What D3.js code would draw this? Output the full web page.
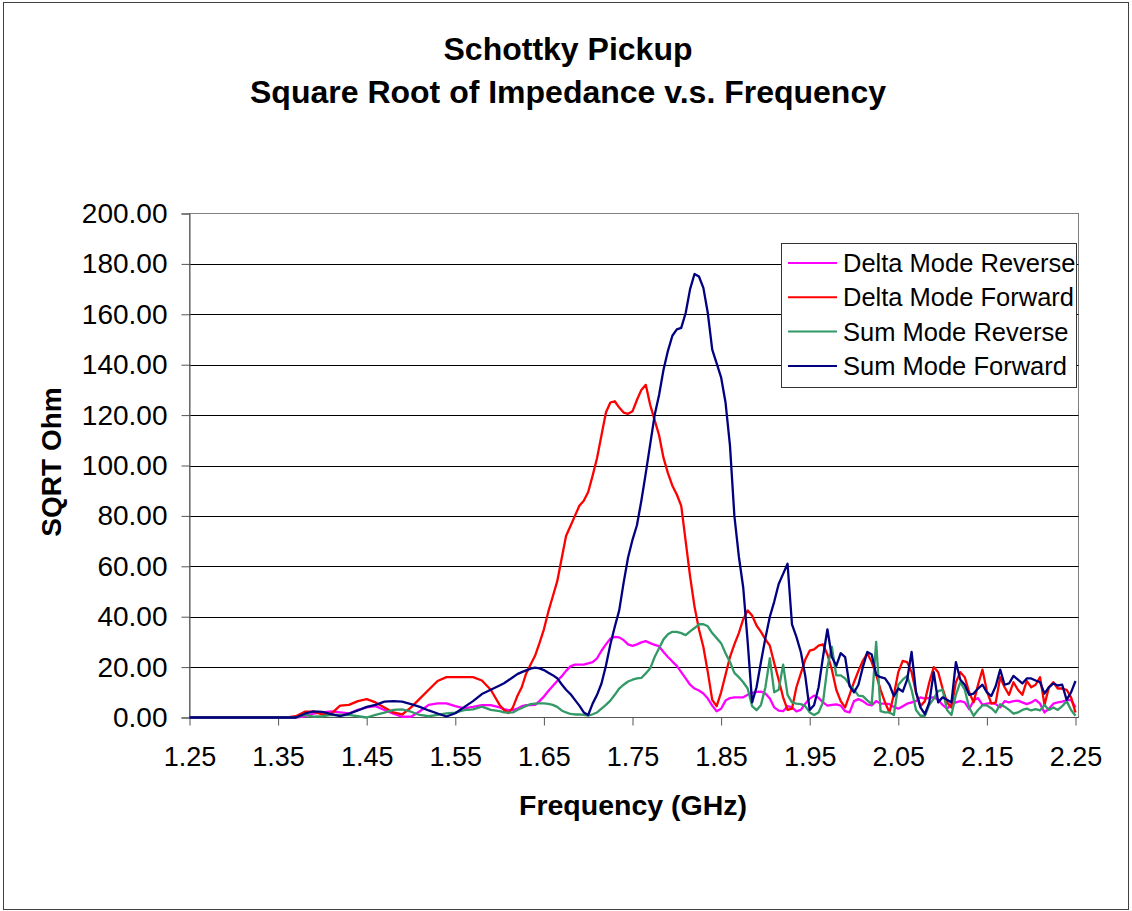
<!DOCTYPE html>
<html>
<head>
<meta charset="utf-8">
<script src="https://cdn.jsdelivr.net/npm/d3@7"></script>
<style>
  body { margin: 0; background: #fff; }
  svg { display: block; }
  text { font-family: "Liberation Sans", Arial, Helvetica, sans-serif; fill: #000; }
</style>
</head>
<body>
<div id="chart"></div>
<script>
// frequency points (GHz)
const freq = [1.25, 1.36, 1.37, 1.38, 1.39, 1.40, 1.41, 1.42, 1.43, 1.44, 1.45, 1.46, 1.47, 1.48, 1.49, 1.50, 1.51, 1.52, 1.53, 1.54, 1.55, 1.56, 1.57, 1.58, 1.59,
  1.600, 1.605, 1.610, 1.615, 1.620, 1.625, 1.630, 1.635, 1.640, 1.645, 1.650, 1.655, 1.660, 1.665, 1.670, 1.675, 1.680, 1.685, 1.690, 1.695,
  1.700, 1.705, 1.710, 1.715, 1.720, 1.725, 1.730, 1.735, 1.740, 1.745, 1.750, 1.755, 1.760, 1.765, 1.770, 1.775, 1.780, 1.785, 1.790, 1.795,
  1.800, 1.805, 1.810, 1.815, 1.820, 1.825, 1.830, 1.835, 1.840, 1.845, 1.850, 1.855, 1.860, 1.865, 1.870, 1.875, 1.880, 1.885, 1.890, 1.895,
  1.900, 1.905, 1.910, 1.915, 1.920, 1.925, 1.930, 1.935, 1.940, 1.945, 1.950, 1.955, 1.960, 1.965, 1.970, 1.975, 1.980, 1.985, 1.990, 1.995,
  2.000, 2.005, 2.010, 2.015, 2.020, 2.025, 2.030, 2.035, 2.040, 2.045, 2.050, 2.055, 2.060, 2.065, 2.070, 2.075, 2.080, 2.085, 2.090, 2.095,
  2.100, 2.105, 2.110, 2.115, 2.120, 2.125, 2.130, 2.135, 2.140, 2.145, 2.150, 2.155, 2.160, 2.165, 2.170, 2.175, 2.180, 2.185, 2.190, 2.195,
  2.200, 2.205, 2.210, 2.215, 2.220, 2.225, 2.230, 2.235, 2.240, 2.245, 2.250];

const deltaReverse = [0, 0, 0, 0.5, 1.5, 2, 2.4, 2, 1.6, 3, 4, 4.5, 3, 1.5, 0.3, 0.3, 2.5, 5, 5.6, 5.6, 4.5, 3.6, 4.2, 4.9, 4.9,
  4, 3.3, 2.9, 2.9, 3.5, 4.5, 4.9, 4.9, 5, 6.5, 8.3, 10.5, 12.5, 14.5, 16.3, 18.5, 20.3, 21, 21, 21,
  21.5, 22, 23.5, 26.5, 29, 31.3, 32, 31.8, 30.7, 29, 28.4, 29, 29.8, 30.3, 29.5, 28.8, 28.3, 26, 24, 22.2,
  20.5, 18, 15.5, 13, 11.5, 10.7, 9.5, 7.5, 4.7, 2.5, 3.5, 6.7, 7.7, 8, 8, 8, 9, 9.8, 10.2, 10.3,
  9.5, 7.5, 4, 2.7, 2.5, 4.5, 4, 2.4, 3, 5.5, 7.5, 8.7, 7.8, 6, 4.7, 5, 5.2, 4.7, 2.5, 2,
  6.5, 7.3, 6.5, 5.2, 4.8, 6.5, 5.5, 5.5, 5.3, 4.2, 3.5, 4.5, 5.5, 6, 6.5, 8, 7.5, 7.8, 8, 7,
  5, 3.5, 5.3, 6, 6.5, 6, 3.3, 6.7, 7.7, 5, 5.5, 5.8, 5.3, 4, 6.5, 6, 6.5, 6.7, 6, 5.3,
  6, 7, 5.5, 2, 3.5, 5.5, 6, 6.3, 6.8, 7, 4];

const deltaForward = [0, 0, 0.5, 2.3, 2.3, 1.2, 1.5, 4.7, 5, 6.5, 7.3, 6, 4, 2, 1.2, 4, 7.5, 11, 14.5, 16, 16, 16, 16, 14.7, 11,
  5, 3, 1.8, 4, 8.5, 12, 17.5, 21, 24.5, 29.5, 35, 42, 48, 54, 63, 72, 76, 80, 84, 86,
  89.5, 96, 103, 112, 121, 125, 125.5, 123, 121, 120.5, 121.5, 126, 130, 132, 124, 118, 112, 103, 97, 92,
  88.5, 84, 70, 56, 44, 35, 28, 18, 7, 4.5, 10, 17, 24, 29, 33.5, 39, 42.5, 40.5, 36.5, 34,
  31, 28.5, 21.5, 15, 8, 3, 3.5, 12, 17.5, 23, 26.5, 27, 28.5, 29, 25, 19, 11, 6.5, 4, 9,
  14, 18.5, 22.5, 25.5, 22, 17, 11, 6, 2, 9, 18, 22.5, 22, 18, 10, 4.5, 6.5, 14, 20, 18,
  11.5, 6, 4, 14, 18, 16, 10, 6, 13, 19, 10.5, 5.5, 6, 16, 12, 9, 14, 11, 9, 14.5,
  12, 13, 16, 5, 12, 14, 11.5, 11.5, 11, 8, 2];

const sumReverse = [0, 0, 0, 1, 0.3, 0.5, 1, 1, 1, 0.5, 0, 1, 1.9, 3, 3.2, 2.3, 1, 0.5, 1, 1.6, 1.9, 2.9, 3.2, 4.3, 3,
  2.5, 2, 1.9, 2, 3, 3.8, 4.6, 5.3, 5.5, 5.6, 5.6, 5.4, 5, 4.2, 2.8, 2, 1.4, 1.2, 1.2, 1,
  0.7, 1.3, 2, 3.5, 5, 6.7, 9, 11.5, 13, 14.3, 15, 15.5, 15.7, 17.5, 19.5, 24, 27.5, 31, 33, 34,
  34, 33.5, 32.7, 34.2, 35.5, 37, 37, 36.2, 33.5, 31.5, 29.5, 25.5, 22, 17.7, 16, 14, 11.5, 4.5, 2.9, 5,
  12, 23.5, 10, 11, 21, 9, 6, 5.5, 5.3, 4.5, 2, 1, 2, 6, 20, 28, 16.7, 16.7, 15.5, 13,
  11, 8.7, 8.5, 6.8, 5.3, 30, 2.5, 2, 2, 1, 13, 15, 16.5, 11, 3, 0.7, 0.7, 5, 7.5, 10.5,
  11, 3, 1, 9, 14, 11, 4, 0.7, 3, 4.8, 4.8, 3.7, 2, 5.3, 4.3, 3, 1.5, 2, 3, 3.5,
  2.8, 3.3, 2.8, 5, 3, 4, 3, 4.5, 6.5, 3, 0.7];

const sumForward = [0, 0, 0, 1.5, 2.4, 2.2, 1.3, 0.5, 1.5, 2.8, 4.2, 5, 6.3, 6.5, 6.3, 5.3, 4.2, 2.8, 1.6, 0.4, 1.7, 4.1, 6.5, 9.3, 11,
  12.7, 13.6, 14.8, 16, 17.2, 18, 18.7, 19.4, 19.8, 19.5, 18.8, 17.8, 16.8, 15.6, 13.2, 11, 9.3, 7, 4.7, 2,
  1, 5.5, 9, 13.5, 20.5, 29, 36, 42.5, 53.5, 63.5, 70.5, 76.3, 86, 97, 108.5, 120, 128, 138, 145.5, 151.5,
  154, 154.6, 160.5, 170, 176, 175, 170.5, 160.5, 146, 140.5, 135, 125, 108, 80, 64, 51.5, 30, 6, 12, 22,
  31.5, 40, 46, 53, 57, 61, 37, 32, 26, 16.5, 3, 5, 12, 24, 35, 24, 20.5, 25.5, 24, 12.5,
  10, 13, 20, 26, 25, 17, 16, 15.5, 13, 8.5, 11.5, 10.3, 15, 26, 10, 4, 1.3, 6, 18, 6,
  8, 7, 6, 22, 15, 13, 9, 9.5, 11.5, 13, 10, 8.5, 12.5, 19, 13, 13.5, 16.5, 15, 13.5, 15.5,
  15.5, 14.7, 14, 9.5, 12, 13.5, 12.7, 13, 7, 10, 14.5];

const seriesNames = ["Delta Mode Reverse", "Delta Mode Forward", "Sum Mode Reverse", "Sum Mode Forward"];
const seriesColors = ["#ff00ff", "#ff0000", "#339966", "#000080"];
const seriesValues = [deltaReverse, deltaForward, sumReverse, sumForward];

const xTicks = [1.25, 1.35, 1.45, 1.55, 1.65, 1.75, 1.85, 1.95, 2.05, 2.15, 2.25];
const yTicks = [0, 20, 40, 60, 80, 100, 120, 140, 160, 180, 200];

const width = 1132, height = 911;
const plot = {left: 189.5, right: 1078.5, top: 213.5, bottom: 717.5};

const svg = d3.select("#chart")
  .append("svg")
  .attr("width", width)
  .attr("height", height);

// outer chart border
svg.append("rect")
  .attr("x", 3.5).attr("y", 2.5)
  .attr("width", 1125).attr("height", 907)
  .attr("fill", "#fff")
  .attr("stroke", "#404040")
  .attr("stroke-width", 1);

const x = d3.scaleLinear().domain([1.25, 2.25]).range([plot.left, 1075.5]);
const y = d3.scaleLinear().domain([0, 200]).range([plot.bottom, plot.top]);

// plot area frame
svg.append("rect")
  .attr("x", plot.left).attr("y", plot.top)
  .attr("width", plot.right - plot.left).attr("height", plot.bottom - plot.top)
  .attr("fill", "#fff")
  .attr("stroke", "#808080")
  .attr("stroke-width", 1);

// horizontal gridlines
svg.append("g")
  .selectAll("line")
  .data(yTicks.filter(d => d > 0 && d < 200))
  .join("line")
    .attr("x1", plot.left).attr("x2", plot.right)
    .attr("y1", d => Math.round(y(d)) + 0.5).attr("y2", d => Math.round(y(d)) + 0.5)
    .attr("stroke", "#000")
    .attr("stroke-width", 1);

// y axis
const yAxis = svg.append("g")
  .attr("transform", `translate(${plot.left},0)`)
  .call(d3.axisLeft(y).tickValues(yTicks).tickSize(8).tickPadding(14).tickFormat(d3.format(".2f")));
yAxis.select(".domain").attr("stroke", "#555");
yAxis.selectAll(".tick line").attr("stroke", "#555");
yAxis.selectAll("text").style("font-size", "28px").attr("fill", "#000");

// x axis
const xAxis = svg.append("g")
  .attr("transform", `translate(0,${plot.bottom})`)
  .call(d3.axisBottom(x).tickValues(xTicks).tickSize(8).tickPadding(21).tickFormat(d3.format(".2f")));
xAxis.select(".domain").attr("stroke", "#555").attr("d", `M${plot.left},0H${plot.right}`);
xAxis.selectAll(".tick line").attr("stroke", "#555");
xAxis.selectAll("text").style("font-size", "27px").attr("fill", "#000");

// lines
const line = d3.line()
  .x((d, i) => x(freq[i]))
  .y(d => y(d));

svg.append("g")
  .selectAll("path")
  .data(seriesValues)
  .join("path")
    .attr("d", d => line(d))
    .attr("fill", "none")
    .attr("stroke", (d, i) => seriesColors[i])
    .attr("stroke-width", 2.3)
    .attr("stroke-linejoin", "round");

// titles
svg.append("text")
  .attr("x", 568).attr("y", 60)
  .attr("text-anchor", "middle")
  .style("font-size", "32px").style("font-weight", "bold")
  .text("Schottky Pickup");
svg.append("text")
  .attr("x", 568).attr("y", 103)
  .attr("text-anchor", "middle")
  .style("font-size", "32px").style("font-weight", "bold")
  .text("Square Root of Impedance v.s. Frequency");

svg.append("text")
  .attr("x", 633).attr("y", 815)
  .attr("text-anchor", "middle")
  .style("font-size", "28.5px").style("font-weight", "bold")
  .text("Frequency (GHz)");

svg.append("text")
  .attr("transform", "translate(61,462) rotate(-90)")
  .attr("text-anchor", "middle")
  .style("font-size", "28px").style("font-weight", "bold")
  .text("SQRT Ohm");

// legend
const legend = svg.append("g");
legend.append("rect")
  .attr("x", 781.5).attr("y", 243.5)
  .attr("width", 295).attr("height", 144)
  .attr("fill", "#fff")
  .attr("stroke", "#333")
  .attr("stroke-width", 1);

const items = legend.selectAll("g.item")
  .data(seriesNames)
  .join("g")
    .attr("class", "item")
    .attr("transform", (d, i) => `translate(0,${263 + i * 34.3})`);
items.append("line")
  .attr("x1", 788).attr("x2", 837)
  .attr("y1", 0).attr("y2", 0)
  .attr("stroke", (d, i) => seriesColors[i])
  .attr("stroke-width", 2);
items.append("text")
  .attr("x", 843).attr("y", 0).attr("dy", "0.35em")
  .style("font-size", "25.5px")
  .text(d => d);
</script>
</body>
</html>
